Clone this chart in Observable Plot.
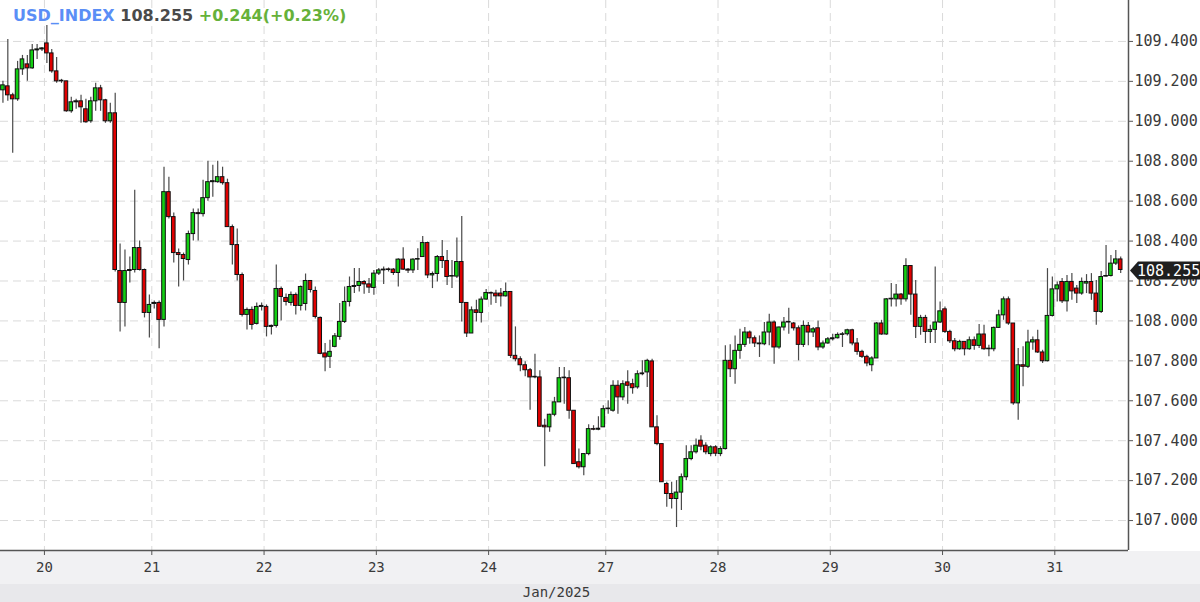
<!DOCTYPE html>
<html><head><meta charset="utf-8">
<script src="https://cdn.jsdelivr.net/npm/d3@7"></script>
<script src="https://cdn.jsdelivr.net/npm/@observablehq/plot@0.6"></script>
<style>
html,body{margin:0;padding:0;background:#fff;}
#wrap{position:relative;width:1200px;height:602px;overflow:hidden;}
#hdr{position:absolute;left:13px;top:6px;font:bold 16px "DejaVu Sans";line-height:19px;white-space:pre;z-index:2;}
</style></head><body>
<div id="wrap"><div id="hdr"></div></div>
<script>
const symbol = "USD_INDEX";
const lastPrice = 108.255;
const change = 0.244;
const changePct = 0.23;

const open = [
109.155,109.175,109.13,109.11,109.26,109.285,109.265,109.355,109.36,109.39,
109.34,109.25,109.2,109.2,109.05,109.095,109.1,109.06,109.0,109.1,
109.165,109.105,109.0,109.04,108.25,108.09,108.25,108.255,108.365,108.255,
108.04,108.085,108.09,108.005,108.645,108.52,108.34,108.33,108.305,108.435,
108.54,108.535,108.615,108.695,108.695,108.72,108.69,108.47,108.38,108.23,
108.03,108.055,107.985,108.07,108.07,107.97,107.975,108.16,108.115,108.09,
108.13,108.075,108.085,108.2,108.15,108.015,107.837,107.82,107.87,107.92,
107.995,108.095,108.17,108.175,108.195,108.183,108.165,108.237,108.253,108.257,
108.257,108.24,108.307,108.257,108.253,108.307,108.32,108.39,108.228,108.235,
108.32,108.3,108.222,108.222,108.295,108.09,107.937,108.053,108.04,108.107,
108.14,108.137,108.137,108.123,108.145,107.825,107.808,107.778,107.753,107.717,
107.717,107.475,107.467,107.53,107.592,107.713,107.713,107.55,107.292,107.267,
107.333,107.458,107.455,107.467,107.558,107.55,107.675,107.617,107.692,107.683,
107.667,107.733,107.742,107.797,107.467,107.383,107.183,107.133,107.108,107.14,
107.217,107.308,107.342,107.4,107.375,107.333,107.367,107.333,107.358,107.8,
107.758,107.85,107.88,107.942,107.913,107.887,107.883,107.942,107.992,107.867,
107.967,107.992,107.987,107.963,107.88,107.975,107.942,107.963,107.867,107.887,
107.908,107.913,107.93,107.933,107.953,107.887,107.845,107.82,107.778,107.812,
107.987,107.932,108.108,108.108,108.132,108.108,108.275,108.132,107.97,108.015,
107.945,107.955,107.992,108.058,107.945,107.898,107.858,107.895,107.858,107.903,
107.875,107.932,107.858,107.858,107.965,108.028,108.108,107.987,107.587,107.778,
107.77,107.892,107.903,107.842,107.798,108.025,108.158,108.195,108.098,108.195,
108.162,108.137,108.187,108.195,108.137,108.045,108.222,108.225,108.287,108.308];

const high = [
109.2,109.41,109.14,109.3,109.33,109.33,109.385,109.385,109.37,109.48,
109.36,109.32,109.21,109.2,109.12,109.11,109.13,109.11,109.12,109.19,
109.18,109.11,109.09,109.14,108.385,108.355,108.32,108.655,108.4,108.26,
108.13,108.1,108.1,108.77,108.72,108.54,108.36,108.34,108.45,108.56,
108.56,108.705,108.8,108.78,108.8,108.77,108.71,108.48,108.46,108.24,
108.065,108.07,108.09,108.09,108.08,107.98,108.28,108.17,108.135,108.145,
108.14,108.175,108.235,108.2,108.17,108.02,107.887,107.903,107.937,108.087,
108.17,108.22,108.262,108.262,108.203,108.212,108.253,108.262,108.27,108.265,
108.262,108.312,108.367,108.262,108.312,108.362,108.423,108.395,108.245,108.328,
108.403,108.353,108.303,108.415,108.523,108.09,108.07,108.103,108.12,108.157,
108.145,108.153,108.162,108.19,108.145,107.97,107.82,107.795,107.762,107.833,
107.75,107.508,107.533,107.617,107.767,107.767,107.75,107.55,107.358,107.333,
107.48,107.475,107.52,107.575,107.6,107.7,107.7,107.7,107.75,107.708,
107.75,107.8,107.808,107.808,107.525,107.383,107.192,107.192,107.2,107.233,
107.375,107.375,107.408,107.425,107.39,107.375,107.375,107.37,107.875,107.88,
107.925,107.958,107.967,107.95,107.925,107.925,107.992,108.033,108.0,107.97,
108.017,108.063,107.992,107.975,108.0,107.992,107.967,108.0,107.9,107.917,
107.933,107.94,107.942,107.958,107.958,107.912,107.853,107.828,107.82,107.992,
108.003,108.112,108.187,108.182,108.137,108.312,108.275,108.203,108.028,108.028,
107.978,108.27,108.095,108.07,107.953,107.912,107.903,107.895,107.92,107.92,
107.982,107.978,107.878,107.97,108.053,108.12,108.12,107.987,107.862,107.87,
107.953,107.92,107.953,107.853,108.262,108.22,108.195,108.212,108.228,108.237,
108.178,108.215,108.232,108.237,108.203,108.248,108.378,108.328,108.353,108.32];

const low = [
109.09,109.1,108.84,109.1,109.23,109.2,109.26,109.31,109.35,109.29,
109.24,109.19,109.19,109.045,109.04,109.06,108.99,108.99,108.99,109.05,
109.05,108.99,108.99,108.245,107.945,107.97,108.19,108.24,108.25,108.015,
107.915,108.06,107.86,107.97,108.51,108.29,108.17,108.2,108.28,108.4,
108.4,108.52,108.6,108.62,108.69,108.68,108.47,108.28,108.2,108.02,
107.955,107.955,107.98,108.05,107.92,107.93,107.965,108.0,108.075,108.075,
108.03,108.05,108.05,108.14,108.01,107.83,107.745,107.762,107.865,107.903,
107.987,108.07,108.137,108.145,108.133,108.137,108.128,108.228,108.183,108.245,
108.228,108.17,108.253,108.237,108.237,108.253,108.32,108.212,108.162,108.195,
108.262,108.178,108.162,108.212,107.995,107.917,107.937,107.995,107.99,108.103,
108.078,108.087,108.07,108.12,107.812,107.795,107.745,107.72,107.553,107.71,
107.467,107.27,107.442,107.52,107.592,107.583,107.508,107.283,107.258,107.225,
107.325,107.45,107.45,107.467,107.533,107.542,107.533,107.6,107.583,107.633,
107.658,107.725,107.667,107.467,107.375,107.19,107.067,107.058,106.965,107.05,
107.2,107.3,107.333,107.35,107.33,107.32,107.32,107.32,107.353,107.717,
107.683,107.808,107.867,107.883,107.867,107.817,107.875,107.875,107.783,107.858,
107.95,107.933,107.95,107.8,107.867,107.875,107.917,107.85,107.858,107.883,
107.9,107.91,107.867,107.925,107.875,107.828,107.812,107.77,107.745,107.812,
107.928,107.928,108.07,108.07,108.078,108.095,108.028,107.912,107.928,107.887,
107.887,107.887,107.987,107.937,107.887,107.845,107.853,107.825,107.853,107.853,
107.862,107.853,107.82,107.845,107.962,108.003,107.978,107.578,107.503,107.67,
107.762,107.853,107.837,107.787,107.795,108.02,108.095,108.087,108.045,108.103,
108.087,108.128,108.137,108.103,107.978,108.037,108.22,108.22,108.278,108.237];

const close = [
109.18,109.13,109.11,109.26,109.31,109.265,109.355,109.36,109.365,109.34,
109.25,109.2,109.2,109.05,109.095,109.1,109.07,108.995,109.1,109.165,
109.105,109.0,109.04,108.255,108.09,108.25,108.255,108.365,108.255,108.04,
108.08,108.09,108.005,108.645,108.52,108.34,108.33,108.31,108.435,108.54,
108.535,108.615,108.695,108.7,108.72,108.69,108.47,108.38,108.23,108.03,
108.055,107.98,108.07,108.075,107.97,107.975,108.16,108.12,108.095,108.13,
108.075,108.17,108.2,108.155,108.02,107.835,107.817,107.845,107.923,107.995,
108.095,108.17,108.175,108.195,108.183,108.167,108.237,108.253,108.257,108.255,
108.24,108.307,108.257,108.252,108.307,108.31,108.39,108.228,108.235,108.32,
108.3,108.22,108.225,108.295,108.09,107.937,108.053,108.04,108.107,108.14,
108.137,108.123,108.123,108.145,107.825,107.808,107.778,107.753,107.717,107.719,
107.47,107.467,107.53,107.592,107.713,107.715,107.55,107.283,107.267,107.333,
107.458,107.455,107.46,107.558,107.56,107.675,107.617,107.683,107.675,107.663,
107.733,107.737,107.8,107.467,107.383,107.192,107.133,107.108,107.14,107.217,
107.308,107.342,107.375,107.37,107.342,107.367,107.335,107.358,107.8,107.758,
107.85,107.88,107.942,107.913,107.887,107.883,107.942,107.992,107.867,107.967,
107.992,107.994,107.963,107.88,107.975,107.942,107.958,107.867,107.887,107.908,
107.913,107.93,107.933,107.953,107.887,107.845,107.82,107.787,107.812,107.987,
107.932,108.108,108.108,108.132,108.108,108.275,108.132,107.97,108.015,107.945,
107.955,107.992,108.048,107.945,107.898,107.858,107.895,107.858,107.903,107.875,
107.932,107.858,107.858,107.965,108.028,108.108,107.987,107.587,107.778,107.77,
107.892,107.903,107.842,107.798,108.025,108.158,108.178,108.098,108.195,108.148,
108.137,108.195,108.195,108.137,108.045,108.22,108.225,108.287,108.308,108.255];

// session starts (in candle index units) and their day labels
const dayTicks = [8.5, 30.5, 53.5, 76.5, 99.5, 123.5, 146.5, 169.5, 192.5, 215.5];
const dayLabels = ["20","21","22","23","24","27","28","29","30","31"];
const monthLabel = "Jan/2025";
const yTicks = [107.0,107.2,107.4,107.6,107.8,108.0,108.2,108.4,108.6,108.8,109.0,109.2,109.4];
const yDomain = [106.85, 109.605];
const xDomain = [-0.5, 230.6];

const UP = "#13cf13", DOWN = "#e00000";
const candles = close.map((c, i) => {
  const lo = Math.min(open[i], c), hi = Math.max(open[i], c);
  return {i, open: open[i], high: high[i], low: low[i], close: c,
          bLo: lo, bHi: Math.max(hi, lo + 0.003),
          color: c >= open[i] ? UP : DOWN};
});

document.getElementById("hdr").innerHTML =
  `<span style="color:#5a8ef6">${symbol}</span> <span style="color:#4a4a4a">${d3.format(".3f")(lastPrice)}</span> <span style="color:#66b13a">${(change>=0?"+":"")+d3.format(".3f")(change)}(${(changePct>=0?"+":"")+d3.format(".2f")(changePct)}%)</span>`;

const labelOf = new Map(dayTicks.map((t, k) => [t, dayLabels[k]]));
const fmt3 = d3.format(".3f");

function priceTag(index, scales, values, dimensions) {
  const y = Math.round(scales.y(lastPrice)) + 0.5;
  const x0 = dimensions.width - dimensions.marginRight;
  const g = d3.create("svg:g");
  g.append("path")
    .attr("d", `M${x0+2},${y} L${x0+10},${y-9} H${dimensions.width} V${y+9} H${x0+10} Z`)
    .attr("fill", "#1f1f1f");
  g.append("text")
    .attr("x", x0 + 9).attr("y", y).attr("dy", "0.36em")
    .attr("text-anchor", "start")
    .attr("fill", "#fff").attr("font-family", "DejaVu Sans Mono").attr("font-size", 15)
    .text(fmt3(lastPrice));
  return g.node();
}

const chart = Plot.plot({
  width: 1200, height: 602,
  marginLeft: 0, marginRight: 72, marginTop: 0, marginBottom: 52,
  x: {type: "linear", domain: xDomain, axis: null, label: null},
  y: {type: "linear", domain: yDomain, axis: null, label: null},
  color: {type: "identity"},
  style: {
    fontFamily: "DejaVu Sans Mono", fontSize: "15px", color: "#3a3a3a",
    background: "linear-gradient(to bottom, #ffffff 0px, #ffffff 551px, #f1f1f3 551px, #f1f1f3 584px, #e8e8eb 584px, #e8e8eb 602px)",
    overflow: "visible"
  },
  marks: [
    Plot.gridY(yTicks, {stroke: "#dadada", strokeOpacity: 1, strokeDasharray: "8,5"}),
    Plot.gridX(dayTicks, {stroke: "#dadada", strokeOpacity: 1, strokeDasharray: "8,5"}),
    Plot.ruleX(candles, {x: "i", y1: "low", y2: "high", stroke: "#4a4a4a", strokeWidth: 1.2}),
    Plot.rect(candles, {x1: d => d.i - 0.37, x2: d => d.i + 0.37, y1: "bLo", y2: "bHi",
      fill: "color", stroke: "#111", strokeWidth: 1}),
    Plot.ruleY([yDomain[0]], {stroke: "#555", strokeWidth: 1.5}),
    Plot.ruleX([xDomain[1]], {stroke: "#555", strokeWidth: 1.5}),
    Plot.axisY(yTicks, {anchor: "right", tickSize: 4, tickPadding: 2, tickFormat: fmt3,
      fontSize: 15, stroke: "#555", label: null}),
    Plot.axisX(dayTicks, {anchor: "bottom", tickSize: 5, tickPadding: 7,
      tickFormat: d => labelOf.get(d), fontSize: 14, stroke: "#555", label: null}),
    Plot.text([monthLabel], {text: d => d, frameAnchor: "bottom", dy: 46, dx: -8, fontSize: 14, fill: "#3a3a3a"}),
    priceTag
  ]
});
document.getElementById("wrap").appendChild(chart);
</script>
</body></html>
